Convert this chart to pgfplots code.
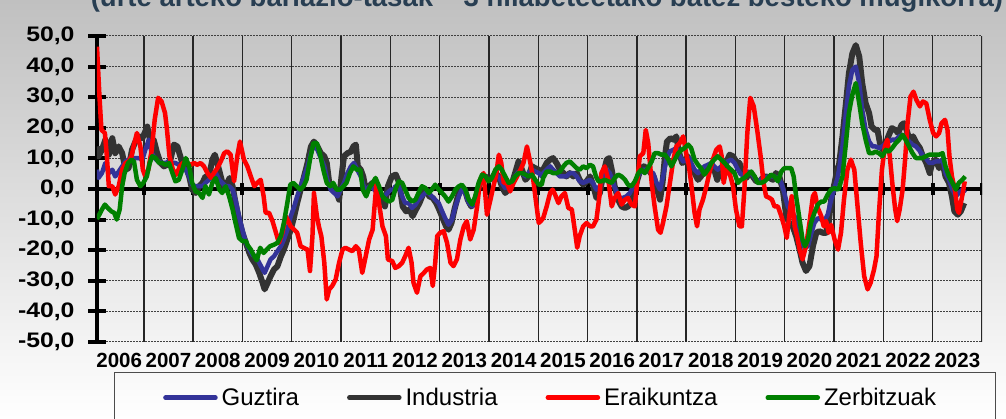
\documentclass[border=0pt]{standalone}
\usepackage{pgfplots}
\usepackage{pgfplotstable}
\pgfplotsset{compat=1.18}
\usepackage{fontspec}
\setmainfont{Liberation Sans}
\definecolor{guz}{RGB}{51,51,153}
\definecolor{ind}{RGB}{51,51,51}
\definecolor{era}{RGB}{255,0,0}
\definecolor{zer}{RGB}{0,128,0}
\definecolor{titcol}{RGB}{40,62,82}
\newcommand\yl[1]{\scalebox{1.18}[1]{#1}}

\pgfplotstableread{
x y
2006.05 13.9
2006.08 10.7
2006.15 12.8
2006.22 16.1
2006.29 11.2
2006.36 16.6
2006.42 11.7
2006.49 13.9
2006.56 11.7
2006.63 6.3
2006.69 6.8
2006.76 12.8
2006.83 15.5
2006.90 17.2
2006.97 16.6
2007.03 18.8
2007.07 20.4
2007.14 15.0
2007.20 16.1
2007.27 11.7
2007.34 8.5
2007.41 7.4
2007.47 7.9
2007.54 9.6
2007.61 14.5
2007.68 13.9
2007.73 11.2
2007.78 8.5
2007.85 7.4
2007.92 4.1
2007.98 -0.2
2008.05 -1.3
2008.12 0.9
2008.19 2.0
2008.25 4.1
2008.32 4.1
2008.39 9.6
2008.44 11.2
2008.49 8.5
2008.56 4.1
2008.63 -0.2
2008.69 2.0
2008.74 3.6
2008.80 0.9
2008.86 -4.6
2008.93 -10.0
2009.00 -14.3
2009.07 -17.6
2009.14 -20.9
2009.20 -23.0
2009.27 -24.7
2009.34 -27.4
2009.41 -30.7
2009.45 -32.8
2009.51 -30.7
2009.57 -28.5
2009.64 -26.3
2009.71 -25.2
2009.78 -22.0
2009.84 -19.8
2009.91 -16.5
2009.98 -13.3
2010.05 -8.9
2010.11 -4.6
2010.18 -0.2
2010.25 4.1
2010.32 8.5
2010.39 13.9
2010.45 15.5
2010.52 13.9
2010.59 11.7
2010.66 10.7
2010.71 8.5
2010.76 2.0
2010.82 -0.2
2010.89 -0.2
2010.96 -3.5
2011.01 4.1
2011.06 10.7
2011.13 11.7
2011.20 12.2
2011.25 13.9
2011.30 14.5
2011.34 7.4
2011.40 6.3
2011.45 4.1
2011.50 -0.2
2011.57 0.9
2011.64 2.0
2011.70 0.9
2011.77 -1.3
2011.84 -3.5
2011.89 -5.7
2011.95 0.9
2012.03 4.1
2012.11 4.7
2012.18 2.0
2012.25 -5.7
2012.32 -7.3
2012.39 -6.7
2012.45 -8.9
2012.52 -6.7
2012.59 -4.6
2012.66 -1.8
2012.72 -0.2
2012.79 -2.4
2012.86 -2.9
2012.93 -4.6
2012.99 -6.7
2013.06 -9.5
2013.13 -12.2
2013.18 -13.3
2013.24 -11.1
2013.30 -6.7
2013.37 -2.4
2013.44 0.9
2013.51 -0.2
2013.57 -3.5
2013.64 -5.7
2013.71 -4.6
2013.78 -0.2
2013.84 3.0
2013.93 4.1
2013.99 3.0
2014.06 3.6
2014.13 5.2
2014.20 4.1
2014.26 0.9
2014.33 -1.3
2014.40 -0.2
2014.47 2.0
2014.53 5.2
2014.60 9.0
2014.67 6.3
2014.74 3.0
2014.80 4.1
2014.87 7.4
2014.94 6.8
2015.01 6.3
2015.07 5.2
2015.10 6.3
2015.17 8.5
2015.24 9.6
2015.30 10.1
2015.37 8.5
2015.44 6.3
2015.51 5.2
2015.57 4.1
2015.64 5.2
2015.71 4.1
2015.78 5.2
2015.84 3.0
2015.91 1.4
2015.98 2.5
2016.05 4.1
2016.11 1.4
2016.18 -2.9
2016.25 -1.3
2016.32 5.2
2016.39 9.6
2016.44 10.1
2016.49 6.3
2016.55 0.9
2016.62 -3.5
2016.69 -5.7
2016.76 -6.2
2016.82 -5.7
2016.89 -4.6
2016.96 -0.2
2017.01 3.0
2017.07 6.3
2017.14 7.4
2017.21 6.8
2017.28 5.2
2017.34 4.1
2017.41 -0.2
2017.47 -3.5
2017.52 2.0
2017.57 10.7
2017.61 15.5
2017.68 16.6
2017.75 16.1
2017.80 17.2
2017.86 11.7
2017.92 8.5
2017.97 9.0
2018.03 10.7
2018.10 7.4
2018.17 5.2
2018.24 3.0
2018.30 4.1
2018.37 6.3
2018.44 7.4
2018.51 7.9
2018.57 6.3
2018.63 3.0
2018.68 5.2
2018.74 6.3
2018.81 8.5
2018.88 11.2
2018.95 10.7
2019.01 9.0
2019.08 8.5
2019.15 5.2
2019.22 3.6
2019.28 5.2
2019.35 4.1
2019.42 2.5
2019.49 2.5
2019.55 3.6
2019.62 4.1
2019.69 3.6
2019.76 3.0
2019.82 5.2
2019.89 4.1
2019.96 -0.2
2020.03 -8.9
2020.09 -11.1
2020.16 -12.2
2020.23 -15.4
2020.30 -19.8
2020.36 -24.1
2020.43 -26.8
2020.50 -25.2
2020.57 -18.7
2020.64 -14.3
2020.70 -13.8
2020.77 -14.3
2020.84 -14.3
2020.89 -11.1
2020.94 -3.5
2021.01 2.0
2021.07 6.8
2021.10 7.9
2021.17 17.2
2021.24 28.0
2021.30 37.8
2021.37 44.3
2021.44 47.0
2021.51 43.3
2021.57 34.6
2021.64 28.0
2021.71 24.8
2021.76 20.4
2021.83 19.3
2021.88 19.3
2021.93 15.0
2021.98 12.8
2022.03 13.9
2022.10 17.2
2022.17 19.9
2022.24 19.3
2022.30 18.3
2022.37 21.0
2022.42 21.5
2022.47 19.3
2022.53 16.1
2022.60 17.2
2022.67 15.0
2022.74 13.4
2022.80 10.7
2022.87 8.5
2022.94 5.2
2022.99 8.5
2023.06 9.6
2023.13 6.8
2023.20 8.5
2023.26 4.1
2023.33 2.0
2023.39 -2.4
2023.44 -7.3
2023.51 -8.4
2023.57 -7.3
2023.64 -4.6
}\industria

\pgfplotstableread{
x y
2006.05 6.3
2006.08 3.6
2006.15 5.2
2006.22 8.5
2006.29 5.2
2006.36 6.3
2006.42 4.1
2006.49 5.7
2006.56 7.4
2006.63 9.0
2006.69 9.6
2006.76 10.1
2006.83 10.1
2006.90 10.1
2006.97 9.6
2007.03 12.8
2007.10 16.1
2007.16 11.7
2007.22 10.1
2007.29 9.0
2007.37 8.5
2007.44 8.5
2007.51 9.0
2007.58 8.5
2007.64 8.5
2007.71 7.9
2007.78 7.4
2007.85 6.3
2007.92 4.1
2007.98 1.4
2008.05 0.9
2008.12 0.9
2008.19 0.9
2008.25 2.0
2008.32 3.0
2008.39 4.1
2008.46 5.2
2008.53 3.0
2008.59 2.0
2008.66 0.9
2008.73 0.9
2008.80 -0.2
2008.86 -3.5
2008.93 -8.9
2009.00 -13.3
2009.07 -17.6
2009.14 -19.8
2009.20 -21.5
2009.27 -22.0
2009.34 -24.1
2009.41 -26.3
2009.45 -27.4
2009.51 -25.2
2009.57 -23.0
2009.64 -22.0
2009.71 -20.3
2009.78 -18.7
2009.84 -16.5
2009.91 -13.3
2009.98 -8.9
2010.05 -5.7
2010.11 -2.4
2010.18 0.9
2010.25 4.1
2010.32 7.4
2010.39 11.7
2010.45 14.5
2010.52 12.8
2010.59 10.1
2010.66 7.4
2010.72 3.0
2010.79 -0.2
2010.86 -1.3
2010.93 -2.4
2010.99 -0.2
2011.06 2.0
2011.13 5.2
2011.20 7.4
2011.26 8.5
2011.33 6.3
2011.40 4.1
2011.47 0.3
2011.53 0.3
2011.60 0.9
2011.67 -0.2
2011.74 -1.3
2011.80 -2.4
2011.87 -2.4
2011.94 -1.3
2012.01 -0.2
2012.07 -0.2
2012.10 0.9
2012.17 0.9
2012.24 -2.4
2012.30 -4.6
2012.37 -4.6
2012.44 -6.2
2012.51 -5.1
2012.57 -3.5
2012.64 -2.4
2012.71 -1.3
2012.78 -1.3
2012.84 -2.4
2012.91 -3.5
2012.98 -4.6
2013.05 -7.3
2013.11 -9.5
2013.18 -11.7
2013.25 -10.0
2013.32 -5.7
2013.39 -2.4
2013.45 -0.2
2013.52 -1.3
2013.59 -4.6
2013.66 -5.7
2013.72 -3.5
2013.79 0.9
2013.86 3.0
2013.93 3.6
2013.99 3.0
2014.06 3.0
2014.13 4.1
2014.20 4.1
2014.26 2.0
2014.33 0.3
2014.40 0.9
2014.47 2.5
2014.53 4.1
2014.60 5.7
2014.67 5.2
2014.74 4.1
2014.80 5.2
2014.87 6.3
2014.94 5.7
2015.01 5.2
2015.07 4.1
2015.10 5.2
2015.17 6.3
2015.24 7.4
2015.30 6.3
2015.37 5.2
2015.44 4.1
2015.51 4.1
2015.57 4.1
2015.64 5.2
2015.71 5.2
2015.78 4.1
2015.84 2.5
2015.91 2.0
2015.98 2.5
2016.05 3.0
2016.11 2.0
2016.18 -0.2
2016.25 0.9
2016.32 4.1
2016.39 6.3
2016.45 5.2
2016.52 2.0
2016.59 -1.3
2016.66 -2.9
2016.72 -2.9
2016.79 -2.4
2016.86 -1.3
2016.93 0.9
2016.99 3.0
2017.06 5.2
2017.13 6.3
2017.20 6.3
2017.26 5.7
2017.33 5.2
2017.40 2.0
2017.47 -0.2
2017.53 4.1
2017.60 9.6
2017.67 12.3
2017.74 12.8
2017.80 13.4
2017.87 10.7
2017.94 9.0
2018.01 9.6
2018.07 10.1
2018.10 8.5
2018.17 6.3
2018.24 5.2
2018.30 6.3
2018.37 7.4
2018.44 7.9
2018.51 8.5
2018.57 7.4
2018.64 6.3
2018.71 7.4
2018.78 7.9
2018.84 9.0
2018.91 9.6
2018.98 8.5
2019.05 6.3
2019.11 4.7
2019.18 4.7
2019.25 5.7
2019.32 5.2
2019.39 3.6
2019.45 2.5
2019.52 3.0
2019.59 3.6
2019.66 4.1
2019.72 4.1
2019.79 4.1
2019.86 3.6
2019.93 2.0
2019.99 -1.3
2020.06 -5.7
2020.13 -7.3
2020.20 -8.9
2020.26 -13.3
2020.33 -16.5
2020.40 -19.2
2020.47 -18.7
2020.53 -14.9
2020.60 -11.1
2020.67 -9.5
2020.74 -10.0
2020.80 -10.5
2020.87 -8.4
2020.94 -3.5
2021.01 0.3
2021.07 3.6
2021.10 6.3
2021.17 13.9
2021.24 24.8
2021.30 33.5
2021.37 38.9
2021.44 40.0
2021.51 34.6
2021.57 25.9
2021.64 19.3
2021.71 15.5
2021.78 13.9
2021.84 13.9
2021.91 13.4
2021.98 13.9
2022.05 15.0
2022.11 15.5
2022.18 16.1
2022.25 16.1
2022.32 17.2
2022.39 17.7
2022.45 17.2
2022.52 15.5
2022.59 14.5
2022.66 13.9
2022.72 12.8
2022.79 11.2
2022.86 10.1
2022.93 8.5
2022.99 8.5
2023.06 9.0
2023.13 9.0
2023.20 9.6
2023.26 5.2
2023.33 3.0
2023.40 -0.2
2023.47 -2.4
2023.53 -1.3
2023.60 -0.2
2023.66 -1.3
}\guztira

\pgfplotstableread{
x y
2006.05 46.5
2006.10 30.2
2006.14 19.3
2006.21 18.3
2006.25 10.7
2006.29 0.9
2006.36 0.9
2006.42 -1.8
2006.49 0.9
2006.56 6.3
2006.63 8.5
2006.69 9.0
2006.75 10.7
2006.80 14.5
2006.86 18.3
2006.93 13.9
2006.98 6.3
2007.03 4.1
2007.09 6.3
2007.16 12.8
2007.22 22.6
2007.29 29.8
2007.36 28.6
2007.43 24.8
2007.47 19.3
2007.52 10.7
2007.59 6.3
2007.66 4.7
2007.73 7.4
2007.79 8.5
2007.88 8.5
2007.95 7.9
2008.02 8.5
2008.08 7.9
2008.15 8.5
2008.22 7.4
2008.29 5.2
2008.36 3.6
2008.42 5.2
2008.49 6.8
2008.56 9.0
2008.63 11.7
2008.69 12.3
2008.76 11.2
2008.83 2.5
2008.90 11.2
2008.95 15.5
2009.03 9.6
2009.10 7.4
2009.17 4.1
2009.24 0.9
2009.30 2.0
2009.37 3.0
2009.43 -2.4
2009.47 -7.8
2009.54 -7.8
2009.61 -10.5
2009.68 -14.3
2009.74 -17.6
2009.81 -14.3
2009.88 -8.9
2009.98 -12.2
2010.05 -13.3
2010.11 -14.3
2010.18 -18.7
2010.25 -19.3
2010.32 -19.8
2010.37 -26.8
2010.42 -15.4
2010.45 -1.3
2010.51 -8.9
2010.55 -12.2
2010.60 -15.4
2010.66 -24.1
2010.71 -36.1
2010.76 -32.8
2010.82 -31.7
2010.89 -29.6
2010.96 -24.1
2011.03 -19.8
2011.09 -19.2
2011.16 -19.8
2011.23 -20.3
2011.30 -18.7
2011.36 -19.8
2011.43 -27.4
2011.50 -22.0
2011.57 -16.5
2011.64 -13.3
2011.69 -3.5
2011.72 2.0
2011.77 -4.6
2011.84 -12.2
2011.91 -15.4
2011.95 -23.0
2012.04 -23.6
2012.10 -25.8
2012.17 -25.2
2012.24 -24.1
2012.30 -22.0
2012.37 -19.2
2012.43 -24.1
2012.47 -30.7
2012.54 -33.9
2012.61 -28.5
2012.68 -27.4
2012.74 -26.3
2012.81 -25.8
2012.86 -31.7
2012.91 -24.1
2012.95 -15.4
2013.01 -14.3
2013.08 -13.8
2013.15 -17.6
2013.22 -24.1
2013.28 -25.2
2013.35 -23.0
2013.42 -16.5
2013.49 -12.2
2013.55 -10.5
2013.62 -16.5
2013.69 -13.3
2013.76 -5.7
2013.82 3.0
2013.89 5.2
2013.96 -8.4
2014.03 -3.5
2014.09 0.9
2014.14 4.1
2014.20 11.2
2014.25 8.5
2014.30 2.0
2014.36 2.0
2014.43 -0.8
2014.50 2.0
2014.57 4.1
2014.64 6.3
2014.70 8.5
2014.77 13.9
2014.84 8.5
2014.89 4.1
2014.94 -2.4
2015.01 -11.1
2015.05 -10.5
2015.10 -9.5
2015.17 -5.7
2015.24 -1.3
2015.29 -0.2
2015.34 -1.8
2015.41 -4.6
2015.47 -2.4
2015.54 -1.3
2015.61 -6.2
2015.68 -6.7
2015.74 -13.3
2015.79 -19.2
2015.84 -15.4
2015.91 -12.2
2015.98 -11.1
2016.05 -12.2
2016.11 -12.2
2016.18 -10.0
2016.24 -2.4
2016.28 5.2
2016.35 7.4
2016.42 3.0
2016.49 -5.7
2016.55 -2.9
2016.62 -1.3
2016.69 -5.1
2016.76 -3.5
2016.82 -2.9
2016.89 -5.1
2016.96 -5.7
2017.01 3.0
2017.06 10.7
2017.13 11.7
2017.18 19.3
2017.23 15.0
2017.30 2.0
2017.36 -5.7
2017.43 -13.3
2017.48 -14.3
2017.53 -11.1
2017.60 -5.7
2017.67 2.0
2017.74 9.6
2017.80 13.9
2017.87 15.0
2017.94 17.2
2018.01 10.7
2018.05 8.0
2018.10 2.0
2018.17 -7.8
2018.22 -12.2
2018.27 -6.7
2018.34 -3.5
2018.41 0.9
2018.47 5.2
2018.54 9.6
2018.61 12.8
2018.68 13.9
2018.72 10.7
2018.76 2.0
2018.81 6.3
2018.88 5.2
2018.95 0.9
2019.01 -6.7
2019.08 -12.2
2019.13 -12.2
2019.18 -0.2
2019.24 18.3
2019.30 29.8
2019.37 27.0
2019.44 19.3
2019.51 10.7
2019.57 2.0
2019.62 -2.4
2019.69 -2.9
2019.74 -3.5
2019.79 -5.7
2019.86 -5.7
2019.93 -8.9
2019.99 -12.2
2020.04 -16.0
2020.09 -8.9
2020.14 -2.4
2020.20 -12.2
2020.25 -15.4
2020.30 -19.8
2020.36 -23.0
2020.43 -18.7
2020.50 -11.1
2020.57 -2.4
2020.61 -1.3
2020.67 -6.2
2020.74 -8.9
2020.79 -12.2
2020.84 -10.5
2020.89 -14.3
2020.94 -11.7
2021.01 -16.5
2021.08 -19.8
2021.14 -14.3
2021.20 -3.5
2021.27 6.3
2021.34 9.6
2021.41 6.3
2021.47 -4.6
2021.54 -17.6
2021.61 -28.5
2021.68 -32.8
2021.74 -30.7
2021.81 -26.3
2021.86 -22.0
2021.91 -7.8
2021.97 6.3
2022.03 13.9
2022.08 16.1
2022.13 10.7
2022.18 2.0
2022.24 -6.7
2022.28 -10.5
2022.33 -6.7
2022.39 -0.2
2022.44 9.6
2022.49 21.5
2022.55 30.2
2022.61 31.8
2022.67 29.1
2022.74 27.0
2022.80 28.6
2022.87 28.0
2022.94 22.6
2023.01 18.3
2023.07 17.2
2023.13 18.3
2023.18 21.5
2023.25 22.6
2023.30 19.3
2023.34 10.7
2023.39 4.1
2023.45 -0.2
2023.50 -6.7
2023.53 -7.8
2023.57 -4.6
2023.61 -1.3
2023.65 2.5
}\eraikuntza

\pgfplotstableread{
x y
2006.05 -9.8
2006.08 -8.9
2006.15 -6.7
2006.21 -5.1
2006.27 -6.2
2006.34 -7.3
2006.40 -7.8
2006.45 -10.0
2006.51 -6.7
2006.56 0.9
2006.61 5.2
2006.68 8.5
2006.75 9.6
2006.80 9.0
2006.86 3.0
2006.93 0.9
2006.99 2.0
2007.06 4.1
2007.12 8.5
2007.17 10.7
2007.24 10.1
2007.31 8.5
2007.37 8.5
2007.44 7.9
2007.51 8.5
2007.58 5.2
2007.64 2.5
2007.71 3.0
2007.78 6.3
2007.85 10.1
2007.92 7.4
2007.98 2.0
2008.05 -0.8
2008.12 -1.3
2008.19 -2.9
2008.25 0.9
2008.32 -1.8
2008.39 2.0
2008.46 3.6
2008.53 -0.2
2008.59 -1.3
2008.66 0.9
2008.73 -2.4
2008.80 -6.7
2008.86 -11.1
2008.93 -16.0
2009.00 -17.0
2009.07 -17.0
2009.10 -18.3
2009.17 -19.8
2009.24 -22.0
2009.29 -23.3
2009.36 -19.2
2009.43 -20.9
2009.49 -19.8
2009.56 -18.7
2009.64 -18.2
2009.71 -17.6
2009.78 -15.4
2009.84 -11.1
2009.91 -4.6
2009.97 1.4
2010.03 2.0
2010.10 0.9
2010.17 -0.2
2010.24 0.9
2010.30 3.0
2010.37 9.6
2010.44 15.0
2010.51 15.0
2010.57 11.7
2010.64 6.3
2010.71 2.0
2010.78 0.9
2010.84 2.0
2010.91 -0.2
2010.98 -0.2
2011.05 0.9
2011.11 2.0
2011.18 5.2
2011.25 7.4
2011.32 6.3
2011.39 6.3
2011.44 -0.2
2011.51 -2.4
2011.57 0.3
2011.64 2.0
2011.70 3.6
2011.77 0.9
2011.84 -2.4
2011.91 -3.5
2011.97 -4.1
2012.04 -3.5
2012.10 -0.2
2012.17 2.5
2012.24 2.0
2012.30 -0.2
2012.37 -2.9
2012.44 -4.1
2012.51 -3.5
2012.57 -1.3
2012.64 0.9
2012.71 0.3
2012.78 -1.3
2012.84 -0.2
2012.91 1.4
2012.98 -0.2
2013.05 -1.3
2013.11 -2.4
2013.18 -4.1
2013.25 -2.4
2013.32 -0.2
2013.39 0.9
2013.45 1.4
2013.52 -0.2
2013.59 -3.5
2013.66 -5.1
2013.72 -2.4
2013.79 2.0
2013.86 4.7
2013.93 4.1
2013.99 2.5
2014.06 3.6
2014.13 6.3
2014.20 7.4
2014.26 6.3
2014.33 4.1
2014.40 2.0
2014.47 2.5
2014.53 4.1
2014.60 5.2
2014.67 5.2
2014.74 4.7
2014.80 4.1
2014.87 4.7
2014.94 3.0
2015.01 1.4
2015.07 1.4
2015.10 3.6
2015.17 5.7
2015.24 5.7
2015.30 5.2
2015.37 5.2
2015.44 5.7
2015.51 7.4
2015.57 8.5
2015.64 9.0
2015.71 7.9
2015.78 6.8
2015.84 6.3
2015.91 7.4
2015.98 6.8
2016.05 7.9
2016.11 7.4
2016.17 4.1
2016.22 2.5
2016.28 2.5
2016.35 3.0
2016.42 2.5
2016.49 2.0
2016.55 3.6
2016.62 4.7
2016.69 4.1
2016.76 3.0
2016.82 1.4
2016.89 0.9
2016.96 2.5
2017.03 5.2
2017.09 6.3
2017.16 5.2
2017.23 7.0
2017.30 9.0
2017.36 11.7
2017.43 11.7
2017.50 11.2
2017.57 11.2
2017.64 9.6
2017.70 7.4
2017.77 9.6
2017.84 11.7
2017.91 12.8
2017.97 13.4
2018.04 14.5
2018.10 13.4
2018.17 9.6
2018.24 7.9
2018.30 6.8
2018.37 4.7
2018.44 6.3
2018.51 8.5
2018.57 9.6
2018.64 10.7
2018.71 9.6
2018.78 8.5
2018.84 7.4
2018.91 6.3
2018.98 5.2
2019.05 2.0
2019.11 3.0
2019.18 3.6
2019.25 4.7
2019.32 5.7
2019.39 4.1
2019.45 2.0
2019.52 2.0
2019.59 2.5
2019.66 3.6
2019.72 4.7
2019.79 4.1
2019.86 2.5
2019.93 5.7
2019.99 6.8
2020.06 6.8
2020.13 6.8
2020.18 4.1
2020.23 -2.4
2020.30 -10.0
2020.36 -16.5
2020.41 -18.7
2020.47 -16.5
2020.53 -11.1
2020.60 -7.8
2020.67 -5.1
2020.74 -4.1
2020.80 -4.1
2020.87 -1.8
2020.94 -0.2
2021.01 0.3
2021.07 -0.2
2021.10 0.3
2021.17 4.1
2021.24 15.0
2021.30 24.8
2021.37 30.8
2021.44 34.6
2021.51 28.0
2021.57 21.5
2021.64 16.1
2021.71 11.7
2021.78 11.7
2021.84 12.2
2021.91 11.7
2021.98 10.7
2022.05 12.8
2022.11 12.2
2022.18 13.4
2022.25 15.0
2022.32 16.1
2022.39 17.7
2022.45 16.1
2022.52 13.9
2022.59 11.7
2022.66 10.1
2022.72 10.1
2022.79 10.1
2022.86 10.7
2022.93 11.2
2022.99 11.2
2023.06 11.2
2023.13 11.2
2023.20 11.7
2023.26 7.4
2023.33 4.1
2023.40 2.0
2023.47 -0.2
2023.53 2.0
2023.60 3.0
2023.66 4.1
}\zerbitzuak

\begin{document}
\begin{tikzpicture}
\fill[top color={rgb,255:red,192;green,192;blue,192}, bottom color=white]
  (-97pt,-77pt) rectangle (909pt,342pt);
\begin{axis}[
  at={(0pt,0pt)}, anchor=south west,
  width=885pt, height=306pt, scale only axis,
  xmin=2006.05, xmax=2024, ymin=-50, ymax=50,
  axis x line*=bottom, axis y line*=left,
  x axis line style={draw=none},
  y axis line style={-, line width=4pt, black},
  xtick={2006.5,2007.5,2008.5,2009.5,2010.5,2011.5,2012.5,2013.5,2014.5,2015.5,2016.5,2017.5,2018.5,2019.5,2020.5,2021.5,2022.5,2023.5},
  xticklabels={2006,2007,2008,2009,2010,2011,2012,2013,2014,2015,2016,2017,2018,2019,2020,2021,2022,2023},
  xtick style={draw=none},
  xmajorgrids=false, ymajorgrids,
  major grid style={black!75, line width=1pt, dash pattern=on 2pt off 1pt},
  ytick={-50,-40,-30,-20,-10,0,10,20,30,40,50},
  yticklabels={{\yl{-50,0}},{\yl{-40,0}},{\yl{-30,0}},{\yl{-20,0}},{\yl{-10,0}},{\yl{0,0}},{\yl{10,0}},{\yl{20,0}},{\yl{30,0}},{\yl{40,0}},{\yl{50,0}}},
  ytick style={line width=4pt, black},
  major tick length=18pt, tick align=center,
  xticklabel style={font=\bfseries\fontsize{20.5}{20.5}\selectfont, text=black, yshift=1.5pt},
  yticklabel style={font=\bfseries\fontsize{21}{21}\selectfont, text=black, xshift=-10pt},
  line join=round,
  legend columns=4,
  legend style={at={(axis description cs:0.0746,-0.182)}, anchor=west, draw=none, fill=none,
    inner sep=0pt, font=\fontsize{24}{24}\selectfont,
    /tikz/every odd column/.append style={column sep=2pt},
    /tikz/every even column/.append style={column sep=46pt}},
  legend image code/.code={\draw[#1, line cap=round] (2.5pt,0pt) -- (52.5pt,0pt);},
]
\pgfplotsinvokeforeach{2007,2008,2009,2010,2011,2012,2013,2014,2015,2016,2017,2018,2019,2020,2021,2022,2023,2024}{
  \draw[black!85, line width=1.4pt] (axis cs:#1,-50) -- (axis cs:#1,50);
}
\draw[black, line width=4pt] (axis cs:2006.05,0) -- (axis cs:2024,0);
\pgfplotsinvokeforeach{2007,2008,2009,2010,2011,2012,2013,2014,2015,2016,2017,2018,2019,2020,2021,2022,2023,2024}{
  \draw[black, line width=4pt] (axis cs:#1,-2) -- (axis cs:#1,2);
}
\addplot[ind, line width=6pt, forget plot] table {\industria};
\addplot[guz, line width=4.5pt, forget plot] table {\guztira};
\addplot[era, line width=4.5pt, forget plot] table {\eraikuntza};
\addplot[zer, line width=4.5pt, forget plot] table {\zerbitzuak};
\addlegendimage{guz, line width=4.5pt}
\addlegendentry{Guztira}
\addlegendimage{ind, line width=4.5pt}
\addlegendentry{Industria}
\addlegendimage{era, line width=4.5pt}
\addlegendentry{Eraikuntza}
\addlegendimage{zer, line width=4.5pt}
\addlegendentry{Zerbitzuak}
\end{axis}
\draw[black!70, line width=0.8pt] (17.3pt,-30.3pt) rectangle (898pt,-110pt);
\node[anchor=base, text=titcol, font=\bfseries\fontsize{27.5}{27.5}\selectfont] at (450pt,335.5pt)
  {(urte arteko bariazio-tasak – 3 hilabeteetako batez besteko mugikorra)};
\pgfresetboundingbox
\path[use as bounding box] (-97pt,-77pt) rectangle (909pt,342pt);
\end{tikzpicture}
\end{document}
